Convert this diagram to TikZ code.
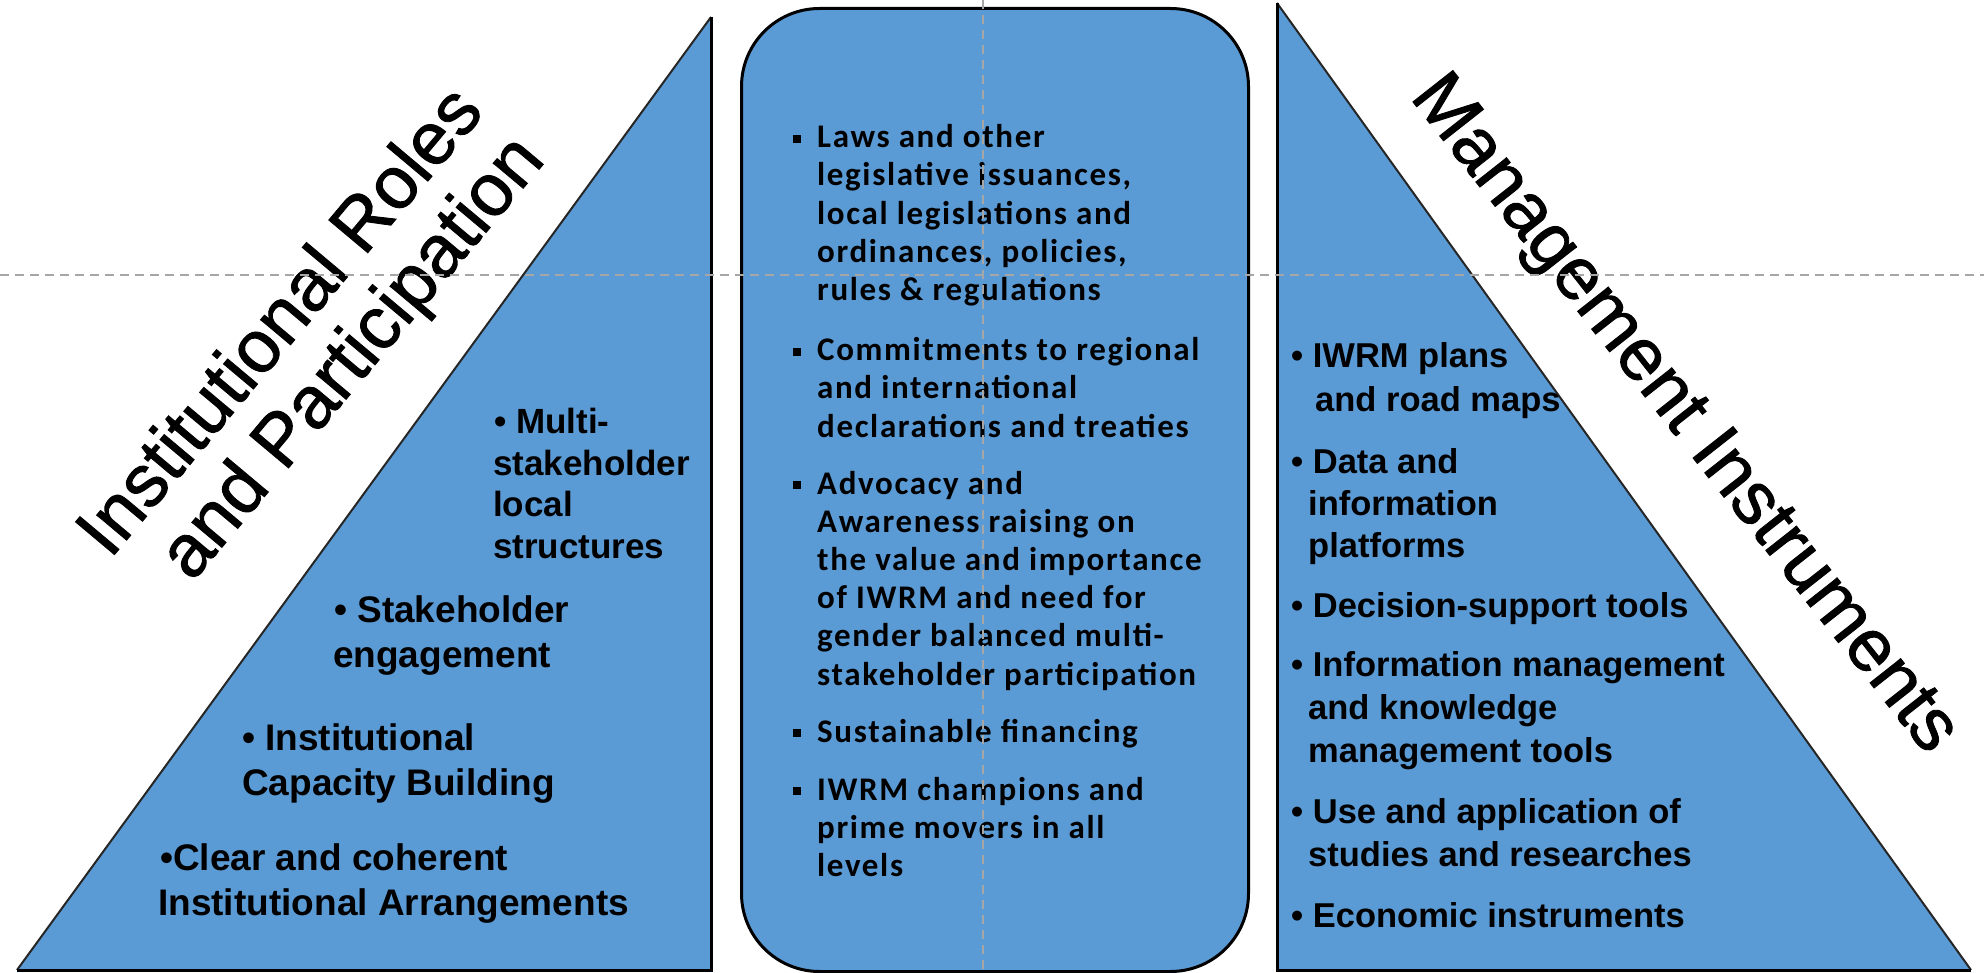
\documentclass[tikz,border=0pt]{standalone}
\usepackage{fontspec}
\setmainfont{Liberation Sans}
\newfontfamily\ctrfont{Carlito}[LetterSpace=5.0]
\newfontfamily\ttlfont{Liberation Sans}[FakeBold=1.2]
\definecolor{blueF}{RGB}{91,155,213}
\definecolor{guideG}{RGB}{166,166,166}
\tikzset{
  shp/.style={fill=blueF},
  sideline/.style={draw=black, line width=3pt},
  hyp/.style={draw=black!85, line width=2pt},
  guide/.style={draw=guideG, line width=2pt, dash pattern=on 9pt off 6pt},
  ttl/.style={inner sep=0pt, anchor=base west, font=\ttlfont\fontsize{74}{85}\selectfont},
  litem/.style={inner sep=0pt, anchor=base west, font=\fontsize{37}{44}\selectfont\bfseries},
  litems/.style={inner sep=0pt, anchor=base west, font=\fontsize{35}{42}\selectfont\bfseries},
  ritem/.style={inner sep=0pt, anchor=base west, font=\fontsize{34.5}{42}\selectfont\bfseries},
  citem/.style={inner sep=0pt, anchor=base west, font=\ctrfont\bfseries\fontsize{33}{38}\selectfont},
}
\newcommand\sqb{\rule[5pt]{8pt}{8pt}\hspace{16pt}}
\begin{document}
\begin{tikzpicture}[x=1pt,y=-1pt]
\useasboundingbox (0,0) rectangle (1984,973);
% ---------- left triangle
\coordinate (LA) at (711,17);
\coordinate (LB) at (711,970);
\coordinate (LC) at (17,970);
\fill[shp] (LA) -- (LB) -- (LC) -- cycle;
\draw[hyp] (LC) -- (LA);
\draw[sideline] (LA) -- (LB) -- (LC);
% ---------- right triangle
\coordinate (RA) at (1277,3);
\coordinate (RB) at (1277,970);
\coordinate (RC) at (1971,970);
\fill[shp] (RA) -- (RB) -- (RC) -- cycle;
\draw[hyp] (RA) -- (RC);
\draw[sideline] (RA) -- (RB) -- (RC);
% ---------- centre rounded box
\node[shp, draw=black, line width=3pt, rounded corners=78pt, minimum width=507pt,
      minimum height=963pt, inner sep=0pt, anchor=north west] (ctr) at (740,7) {};
% ---------- titles
\node[ttl, rotate=50] (t1) at (110,560) {Institutional Roles};
\node[ttl, rotate=50] (t2) at (192,583) {and Participation};
\node[ttl, rotate=-51.8] (t3) at (1409,97) {Management Instruments};
% ---------- left items
\node[litems] (l1) at (494,433) {\textbullet\ Multi-};
\node[litems] (l2) at (493,475) {stakeholder};
\node[litems] (l3) at (493,516) {local};
\node[litems] (l4) at (493,558) {structures};
\node[litem] (l5) at (334,622) {\textbullet\ Stakeholder};
\node[litem] (l6) at (333,667) {engagement};
\node[litem] (l7) at (242,750) {\textbullet\ Institutional};
\node[litem] (l8) at (242,795) {Capacity Building};
\node[litem] (l9) at (160,870) {\textbullet Clear and coherent};
\node[litem] (l10) at (158,915) {Institutional Arrangements};
% ---------- centre items
\node[citem] (c1) at (793,148) {\sqb Laws and other};
\node[citem] (c2) at (817,186) {legislative issuances,};
\node[citem] (c3) at (817,225) {local legislations and};
\node[citem] (c4) at (817,263) {ordinances, policies,};
\node[citem] (c5) at (817,301) {rules \& regulations};
\node[citem] (c6) at (793,361) {\sqb Commitments to regional};
\node[citem] (c7) at (817,399) {and international};
\node[citem] (c8) at (817,437) {declarations and treaties};
\node[citem] (c9) at (793,494) {\sqb Advocacy and};
\node[citem] (c10) at (817,532) {Awareness raising on};
\node[citem] (c11) at (817,570) {the value and importance};
\node[citem] (c12) at (817,608) {of IWRM and need for};
\node[citem] (c13) at (817,646) {gender balanced multi-};
\node[citem] (c14) at (817,685) {stakeholder participation};
\node[citem] (c15) at (793,742) {\sqb Sustainable financing};
\node[citem] (c16) at (793,800) {\sqb IWRM champions and};
\node[citem] (c17) at (817,838) {prime movers in all};
\node[citem] (c18) at (817,876) {levels};
% ---------- right items
\node[ritem] (r1) at (1291,368) {\textbullet\ IWRM plans};
\node[ritem] (r2) at (1315,411) {and road maps};
\node[ritem] (r3) at (1291,473) {\textbullet\ Data and};
\node[ritem] (r4) at (1308,515) {information};
\node[ritem] (r5) at (1308,557) {platforms};
\node[ritem] (r6) at (1291,617) {\textbullet\ Decision-support tools};
\node[ritem] (r7) at (1291,676) {\textbullet\ Information management};
\node[ritem] (r8) at (1308,719) {and knowledge};
\node[ritem] (r9) at (1308,762) {management tools};
\node[ritem] (r10) at (1291,823) {\textbullet\ Use and application of};
\node[ritem] (r11) at (1308,866) {studies and researches};
\node[ritem] (r12) at (1291,927) {\textbullet\ Economic instruments};
% ---------- guide lines
\coordinate (gh1) at (0,275);
\coordinate (gh2) at (1984,275);
\coordinate (gv1) at (983,0);
\coordinate (gv2) at (983,973);
\draw[guide] (gh1) -- (gh2);
\draw[guide] (gv1) -- (gv2);
\end{tikzpicture}
\end{document}
